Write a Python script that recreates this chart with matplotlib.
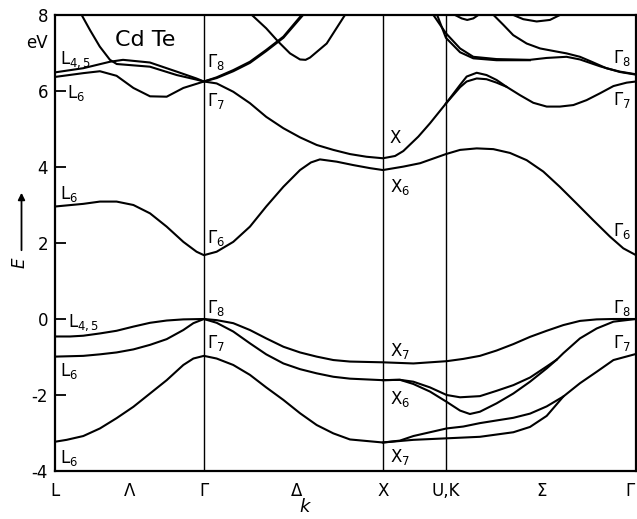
import matplotlib
matplotlib.use("Agg")
import matplotlib.pyplot as plt

plt.rcParams['font.family'] = ['Liberation Sans Narrow', 'DejaVu Sans']
plt.rcParams['mathtext.fontset'] = 'dejavusans'

# high symmetry points (k in units of Gamma-X)
k_nodes = [0.0, 0.832, 1.832, 2.184, 3.246]
k_label_pos = [0.0, 0.419, 0.832, 1.352, 1.832, 2.184, 2.72, 3.215]
k_labels = ['L', 'Λ', 'Γ', 'Δ', 'X', 'U,K', 'Σ', 'Γ']
e_ticks = [8, 6, 4, 2, 0, -2, -4]

# valence bands
vb1_k = [0, 0.084, 0.158, 0.251, 0.344, 0.438, 0.531, 0.624, 0.717, 0.832,
         0.903, 0.996, 1.089, 1.18, 1.276, 1.369, 1.462, 1.555, 1.648, 1.832,
         2.002, 2.188, 2.281, 2.374, 2.467, 2.561, 2.654, 2.747, 2.84, 2.933, 3.026, 3.12, 3.246]
vb1_E = [-0.46, -0.46, -0.44, -0.38, -0.31, -0.20, -0.10, -0.04, -0.01, 0.0,
         -0.03, -0.11, -0.29, -0.51, -0.73, -0.88, -0.99, -1.08, -1.12, -1.14,
         -1.17, -1.11, -1.05, -0.97, -0.83, -0.66, -0.47, -0.31, -0.16, -0.05, -0.01, 0.0, 0.0]

vb2_k = [0, 0.158, 0.251, 0.344, 0.438, 0.531, 0.624, 0.717, 0.773, 0.832,
         0.903, 0.996, 1.089, 1.18, 1.276, 1.369, 1.462, 1.555, 1.648, 1.832,
         1.927, 2.002, 2.095, 2.188, 2.263, 2.374, 2.467, 2.561, 2.654, 2.747, 2.803,
         2.84, 2.933, 3.026, 3.12, 3.246]
vb2_E = [-0.99, -0.97, -0.93, -0.88, -0.80, -0.68, -0.53, -0.29, -0.11, 0.0,
         -0.10, -0.33, -0.64, -0.93, -1.17, -1.32, -1.43, -1.52, -1.57, -1.61,
         -1.60, -1.65, -1.80, -2.00, -2.06, -2.03, -1.89, -1.74, -1.54, -1.25, -1.07,
         -0.90, -0.51, -0.25, -0.07, 0.0]

vb2b_k = [1.832, 1.927, 2.002, 2.095, 2.188, 2.263, 2.318, 2.374, 2.467, 2.561, 2.654, 2.747, 2.803]
vb2b_E = [-1.61, -1.60, -1.71, -1.91, -2.18, -2.41, -2.50, -2.44, -2.22, -1.96, -1.65, -1.30, -1.07]

vb3_k = [0, 0.065, 0.158, 0.251, 0.344, 0.438, 0.531, 0.624, 0.717, 0.773, 0.832,
         0.903, 0.996, 1.089, 1.18, 1.276, 1.369, 1.462, 1.555, 1.648, 1.832,
         1.927, 2.002, 2.188, 2.281, 2.374, 2.467, 2.561, 2.654, 2.747, 2.84, 2.933, 3.026, 3.12, 3.246]
vb3_E = [-3.23, -3.18, -3.08, -2.88, -2.61, -2.31, -1.96, -1.61, -1.21, -1.04, -0.97,
         -1.04, -1.21, -1.47, -1.80, -2.13, -2.48, -2.79, -3.01, -3.17, -3.25,
         -3.20, -3.08, -2.88, -2.83, -2.74, -2.67, -2.60, -2.49, -2.30, -2.04, -1.69, -1.39, -1.08, -0.92]

vb3b_k = [1.832, 2.002, 2.188, 2.374, 2.561, 2.654, 2.747, 2.80, 2.84]
vb3b_E = [-3.25, -3.18, -3.14, -3.10, -2.98, -2.84, -2.55, -2.26, -2.04]

# conduction bands
cb1_k = [0, 0.158, 0.251, 0.344, 0.438, 0.531, 0.624, 0.717, 0.791, 0.832,
         0.903, 0.996, 1.089, 1.18, 1.276, 1.369, 1.43, 1.48, 1.574, 1.667, 1.76, 1.832,
         1.946, 2.04, 2.184, 2.263, 2.356, 2.449, 2.542, 2.635, 2.728, 2.82, 2.914, 3.007, 3.1, 3.175, 3.246]
cb1_E = [2.96, 3.03, 3.09, 3.09, 3.00, 2.78, 2.43, 2.03, 1.77, 1.68,
         1.77, 2.03, 2.43, 2.96, 3.48, 3.92, 4.12, 4.20, 4.14, 4.05, 3.97, 3.92,
         4.01, 4.10, 4.34, 4.45, 4.49, 4.47, 4.37, 4.18, 3.88, 3.48, 3.04, 2.60, 2.17, 1.86, 1.68]

cb2_k = [0, 0.158, 0.251, 0.344, 0.438, 0.531, 0.624, 0.717, 0.832,
         0.903, 0.996, 1.089, 1.18, 1.276, 1.369, 1.462, 1.555, 1.648, 1.74, 1.832,
         1.9, 1.946, 2.03, 2.095, 2.184, 2.263, 2.3, 2.356, 2.411, 2.467, 2.523, 2.598,
         2.672, 2.747, 2.821, 2.896, 2.97, 3.045, 3.12, 3.194, 3.246]
cb2_E = [6.37, 6.47, 6.52, 6.40, 6.08, 5.86, 5.85, 6.08, 6.25,
         6.20, 5.98, 5.68, 5.32, 5.02, 4.78, 4.58, 4.45, 4.34, 4.27, 4.23,
         4.29, 4.42, 4.80, 5.15, 5.67, 6.16, 6.38, 6.48, 6.42, 6.29, 6.11, 5.89,
         5.69, 5.59, 5.59, 5.63, 5.76, 5.94, 6.13, 6.22, 6.25]

cb2b_k = [2.184, 2.263, 2.3, 2.356, 2.411, 2.467, 2.523]
cb2b_E = [5.67, 6.10, 6.25, 6.33, 6.31, 6.22, 6.11]

cb3_k = [0, 0.158, 0.307, 0.38, 0.53, 0.68, 0.79, 0.832,
         0.903, 0.996, 1.089, 1.18, 1.276, 1.378]
cb3_E = [6.49, 6.60, 6.77, 6.82, 6.75, 6.51, 6.33, 6.25,
         6.36, 6.55, 6.77, 7.08, 7.43, 8.0]

cb4_k = [0.149, 0.196, 0.25, 0.307, 0.345, 0.53, 0.68, 0.79, 0.832,
         0.903, 0.996, 1.089, 1.18, 1.276, 1.386]
cb4_E = [8.0, 7.60, 7.17, 6.82, 6.71, 6.64, 6.42, 6.30, 6.25,
         6.34, 6.52, 6.74, 7.05, 7.40, 8.0]

cb5_k = [1.10, 1.18, 1.247, 1.313, 1.369, 1.40, 1.425, 1.518, 1.62]
cb5_E = [8.0, 7.65, 7.30, 6.99, 6.83, 6.82, 6.88, 7.25, 8.0]

cb6_k = [2.114, 2.184, 2.263, 2.337, 2.467, 2.653, 2.747, 2.858, 2.933, 3.045, 3.156, 3.246]
cb6_E = [8.0, 7.52, 7.12, 6.90, 6.84, 6.82, 6.87, 6.90, 6.83, 6.65, 6.50, 6.43]

cb6b_k = [2.135, 2.184, 2.263, 2.337, 2.467, 2.653]
cb6b_E = [8.0, 7.40, 7.02, 6.86, 6.81, 6.81]

cb7_k = [2.45, 2.505, 2.56, 2.635, 2.71, 2.80, 2.858, 2.933, 2.998, 3.08, 3.156, 3.246]
cb7_E = [8.0, 7.74, 7.47, 7.25, 7.12, 7.04, 6.99, 6.90, 6.77, 6.60, 6.51, 6.44]

cb8_k = [2.235, 2.272, 2.303, 2.337, 2.365]
cb8_E = [8.0, 7.91, 7.87, 7.91, 8.0]

cb9_k = [2.561, 2.616, 2.691, 2.765, 2.821]
cb9_E = [8.0, 7.89, 7.83, 7.87, 8.0]

bands = [(vb1_k, vb1_E), (vb2_k, vb2_E), (vb2b_k, vb2b_E), (vb3_k, vb3_E), (vb3b_k, vb3b_E),
         (cb1_k, cb1_E), (cb2_k, cb2_E), (cb2b_k, cb2b_E), (cb3_k, cb3_E), (cb4_k, cb4_E),
         (cb5_k, cb5_E), (cb6_k, cb6_E), (cb6b_k, cb6b_E), (cb7_k, cb7_E),
         (cb8_k, cb8_E), (cb9_k, cb9_E)]

# point labels: (k, E, text)
point_labels = [
    (0.028, 6.82, r'L$_{4,5}$'), (0.067, 5.95, r'L$_6$'), (0.028, 3.3, r'L$_6$'),
    (0.85, 6.76, r'Γ$_8$'), (0.85, 5.74, r'Γ$_7$'), (0.85, 2.13, r'Γ$_6$'),
    (1.87, 4.76, 'X'), (1.87, 3.47, r'X$_6$'),
    (3.12, 6.87, r'Γ$_8$'), (3.12, 5.76, r'Γ$_7$'), (3.12, 2.32, r'Γ$_6$'),
    (0.075, -0.1, r'L$_{4,5}$'), (0.028, -1.37, r'L$_6$'), (0.028, -3.66, r'L$_6$'),
    (0.85, 0.3, r'Γ$_8$'), (0.85, -0.64, r'Γ$_7$'),
    (1.87, -0.85, r'X$_7$'), (1.87, -2.1, r'X$_6$'), (1.87, -3.63, r'X$_7$'),
    (3.12, 0.3, r'Γ$_8$'), (3.12, -0.62, r'Γ$_7$'),
]

fig = plt.figure(figsize=(6.37, 5.19), dpi=100)
ax = fig.add_axes([55/637, 1-471/519, 581/637, 456/519])

for kk, ee in bands:
    ax.plot(kk, ee, color='black', lw=1.5, solid_joinstyle='round')

for kn in k_nodes[1:4]:
    ax.axvline(kn, color='black', lw=1.0)

ax.set_xlim(k_nodes[0], k_nodes[-1])
ax.set_ylim(-4, 8)
for s in ax.spines.values():
    s.set_linewidth(1.6)

ax.set_yticks(e_ticks)
ax.set_yticklabels([str(t) for t in e_ticks], fontsize=12)
ax.tick_params(axis='y', direction='in', length=8, width=1.3, pad=5)
ax.set_xticks(k_label_pos)
ax.set_xticklabels(k_labels, fontsize=12)
ax.tick_params(axis='x', length=0, pad=8)

for kx, ey, txt in point_labels:
    ax.text(kx, ey, txt, fontsize=12, ha='left', va='center')

ax.text(0.503, 7.34, 'Cd Te', fontsize=16, ha='center', va='center')
ax.text(-0.1, 7.26, 'eV', fontsize=12, ha='center', va='center', clip_on=False)

fig.text(20/637, 1-263/519, 'E', rotation=90, fontsize=12, style='italic', ha='center', va='center')
ax.annotate('', xy=(21.5/637, 1-190/519), xytext=(21.5/637, 1-253/519),
            xycoords='figure fraction', textcoords='figure fraction',
            arrowprops=dict(arrowstyle='-|>', lw=1.3, color='black', mutation_scale=10))
fig.text(305/637, 1-507/519, 'k', fontsize=13, style='italic', ha='center', va='center')

fig.savefig('out.png', dpi=100)
